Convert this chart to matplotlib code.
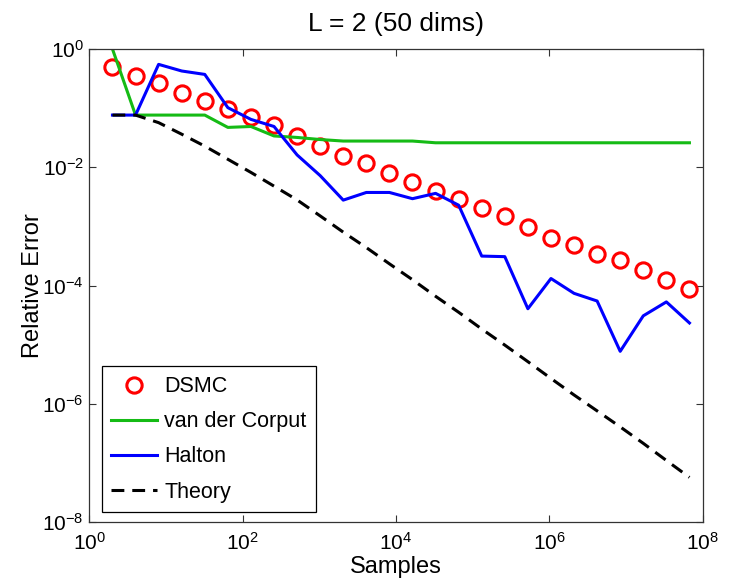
import matplotlib
matplotlib.use("Agg")
import matplotlib.pyplot as plt
from matplotlib.ticker import LogLocator, NullLocator

plt.rcParams['font.family'] = ['Liberation Sans', 'DejaVu Sans']
plt.rcParams['mathtext.fontset'] = 'custom'
plt.rcParams['mathtext.rm'] = 'Liberation Sans'
plt.rcParams['mathtext.it'] = 'Liberation Sans:italic'
plt.rcParams['mathtext.bf'] = 'Liberation Sans:bold'

samples = [2, 4, 8, 16, 32, 64, 128, 256, 512, 1024, 2048, 4096, 8192,
           16384, 32768, 65536, 131072, 262144, 524288, 1048576, 2097152,
           4194304, 8388608, 16777216, 33554432, 67108864]

dsmc = [0.501, 0.349, 0.263, 0.182, 0.133, 0.0977, 0.0698, 0.0518, 0.0339,
        0.0229, 0.0158, 0.0117, 0.00813, 0.00569, 0.00398, 0.00295, 0.00207,
        0.00148, 0.000977, 0.000646, 0.000479, 0.000339, 0.000269, 0.000186,
        0.000126, 0.0000891]

van_der_corput = [1.0, 0.0764, 0.0764, 0.0764, 0.0764, 0.0473, 0.0490, 0.0339,
                  0.0320, 0.0295, 0.0278, 0.0278, 0.0278, 0.0278, 0.0260, 0.0260,
                  0.0260, 0.0260, 0.0260, 0.0260, 0.0260, 0.0260, 0.0260, 0.0260,
                  0.0260, 0.0260]

halton = [0.0764, 0.0764, 0.550, 0.425, 0.372, 0.102, 0.0646, 0.0490, 0.0162,
          0.00724, 0.00279, 0.00376, 0.00376, 0.00295, 0.00363, 0.00229,
          0.000316, 0.000309, 0.0000407, 0.000132, 0.0000741, 0.0000550,
          0.00000776, 0.0000309, 0.0000531, 0.0000234]

theory = [0.0764, 0.0764, 0.0569, 0.0363, 0.0228, 0.01368, 0.00820, 0.00481,
          0.00281, 0.00151, 0.000802, 0.000440, 0.000234, 0.000126, 0.0000661,
          0.0000355, 0.0000185, 0.00000989, 0.00000519, 0.00000270, 0.00000142,
          7.64e-7, 4.10e-7, 2.16e-7, 1.11e-7, 5.75e-8]

fig = plt.figure(figsize=(7.32, 5.82), dpi=100)
ax = fig.add_axes([0.1221, 0.1026, 0.8379, 0.8132])

ax.plot(samples, dsmc, linestyle='none', marker='o', markersize=11,
        markerfacecolor='none', markeredgecolor='#ff0000', markeredgewidth=2.2,
        label='DSMC')
ax.plot(samples, van_der_corput, color='#15bb15', linewidth=2.2,
        label='van der Corput')
ax.plot(samples, halton, color='#0000ff', linewidth=2.2, label='Halton')
ax.plot(samples, theory, color='black', linewidth=2.2, dashes=(4.2, 2.6),
        label='Theory')

ax.set_xscale('log')
ax.set_yscale('log')
ax.set_xlim(1, 1e8)
ax.set_ylim(1e-8, 1)
ax.xaxis.set_major_locator(LogLocator(base=100.0, numticks=10))
ax.yaxis.set_major_locator(LogLocator(base=100.0, numticks=10))
ax.xaxis.set_minor_locator(NullLocator())
ax.yaxis.set_minor_locator(NullLocator())

for s in ax.spines.values():
    s.set_color('#333333')
    s.set_linewidth(0.9)
ax.tick_params(direction='in', length=5, width=0.8, colors='#333333',
               labelcolor='black', labelsize=15, top=True, right=True)
ax.tick_params(axis='x', pad=7)
ax.tick_params(axis='y', pad=4)

ax.set_xlabel('Samples', fontsize=17, labelpad=1.5)
ax.set_ylabel('Relative Error', fontsize=17, labelpad=-1.5)
ax.set_title('L = 2 (50 dims)', fontsize=19, pad=13)

leg = ax.legend(loc='lower left', bbox_to_anchor=(0.02, 0.021),
                borderaxespad=0, fontsize=15.5, fancybox=False,
                edgecolor='black', framealpha=1, handlelength=2.1,
                handletextpad=0.35, labelspacing=0.66, borderpad=0.45)
leg.get_frame().set_linewidth(0.9)

fig.savefig('out.png', dpi=100, facecolor='white')
